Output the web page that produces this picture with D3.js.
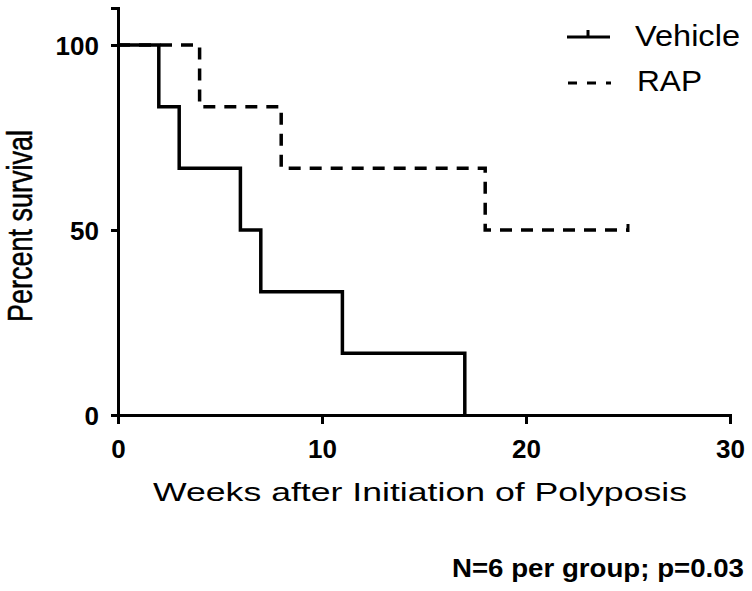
<!DOCTYPE html>
<html><head><meta charset="utf-8">
<script src="https://cdn.jsdelivr.net/npm/d3@7"></script>
<style>body{margin:0;background:#fff}text{font-family:"Liberation Sans",Arial,sans-serif}</style>
</head><body><svg id="c" width="752" height="591"></svg>
<script>
const vehicleTimes = [0, 2, 3, 6, 7, 11, 17];
const vehicleSurv = [100, 83.33, 66.67, 50, 33.33, 16.67, 0];
const rapTimes = [0, 4, 8, 18];
const rapSurv = [100, 83.33, 66.67, 50];
const rapEnd = 25;
const xTicks = [0, 10, 20, 30];
const yTicks = [0, 50, 100];
const seriesNames = ["Vehicle", "RAP"];

const svg = d3.select("#c");
const x = d3.scaleLinear().domain([0, 30]).range([118, 730]);
const y = d3.scaleLinear().domain([0, 110]).range([415, 8]);

function stepPts(times, surv, end) {
  const pts = [];
  for (let i = 0; i < times.length; i++) {
    if (i > 0) pts.push([times[i], surv[i - 1]]);
    pts.push([times[i], surv[i]]);
  }
  if (end !== undefined) pts.push([end, surv[surv.length - 1]]);
  return pts;
}
const line = d3.line().x(d => x(d[0])).y(d => y(d[1]));

// axes
const xAxis = svg.append("g").attr("transform", "translate(0,415)")
  .call(d3.axisBottom(x).tickValues(xTicks).tickSize(9).tickFormat(d3.format("d")));
const yAxis = svg.append("g").attr("transform", "translate(118,0)")
  .call(d3.axisLeft(y).tickValues(yTicks).tickSize(7).tickFormat(d3.format("d")));
[xAxis, yAxis].forEach(g => {
  g.select(".domain").attr("stroke", "#000").attr("stroke-width", 3);
  g.selectAll(".tick line").attr("stroke", "#000").attr("stroke-width", 3);
  g.selectAll(".tick text").attr("fill", "#000").attr("font-size", 26).attr("font-weight", "bold")
    .attr("font-family", "Liberation Sans, Arial, sans-serif");
});
xAxis.selectAll(".tick text").attr("dy", null).attr("y", 43);
yAxis.selectAll(".tick text").attr("x", -19).attr("dy", null).attr("y", 9);

// curves
svg.append("path").datum(stepPts(vehicleTimes, vehicleSurv))
  .attr("d", line).attr("fill", "none").attr("stroke", "#000").attr("stroke-width", 3.5);
svg.append("path").datum(stepPts(rapTimes, rapSurv, rapEnd))
  .attr("d", line).attr("fill", "none").attr("stroke", "#000").attr("stroke-width", 3.5)
  .attr("stroke-dasharray", "12,9");
// censor tick for RAP
svg.append("line").attr("x1", x(rapEnd)).attr("x2", x(rapEnd))
  .attr("y1", y(rapSurv[rapSurv.length-1]) - 6).attr("y2", y(rapSurv[rapSurv.length-1]) + 2)
  .attr("stroke", "#000").attr("stroke-width", 3);

// labels
svg.append("text").attr("x", 153).attr("y", 501)
  .attr("font-size", 26).attr("textLength", 534).attr("lengthAdjust", "spacingAndGlyphs")
  .text("Weeks after Initiation of Polyposis");
svg.append("text").attr("transform", "translate(32,226) rotate(-90) scale(1,1.3)").attr("text-anchor", "middle")
  .attr("font-size", 27).attr("stroke", "#000").attr("stroke-width", 0.4).text("Percent survival");
svg.append("text").attr("x", 452).attr("y", 577)
  .attr("font-size", 25).attr("font-weight", "bold").attr("textLength", 292).attr("lengthAdjust", "spacingAndGlyphs")
  .text("N=6 per group; p=0.03");

// legend
const leg = svg.append("g");
leg.append("line").attr("x1", 567).attr("x2", 610).attr("y1", 37).attr("y2", 37)
  .attr("stroke", "#000").attr("stroke-width", 3);
leg.append("line").attr("x1", 588).attr("x2", 588).attr("y1", 30).attr("y2", 37)
  .attr("stroke", "#000").attr("stroke-width", 3);
leg.append("line").attr("x1", 568).attr("x2", 612).attr("y1", 83).attr("y2", 83)
  .attr("stroke", "#000").attr("stroke-width", 3).attr("stroke-dasharray", "9,10,9,10,5");
leg.append("text").attr("x", 635).attr("y", 46).attr("font-size", 30)
  .attr("textLength", 105).attr("lengthAdjust", "spacingAndGlyphs").text(seriesNames[0]);
leg.append("text").attr("x", 637).attr("y", 91).attr("font-size", 29)
  .attr("textLength", 65).attr("lengthAdjust", "spacingAndGlyphs").text(seriesNames[1]);
</script></body></html>
